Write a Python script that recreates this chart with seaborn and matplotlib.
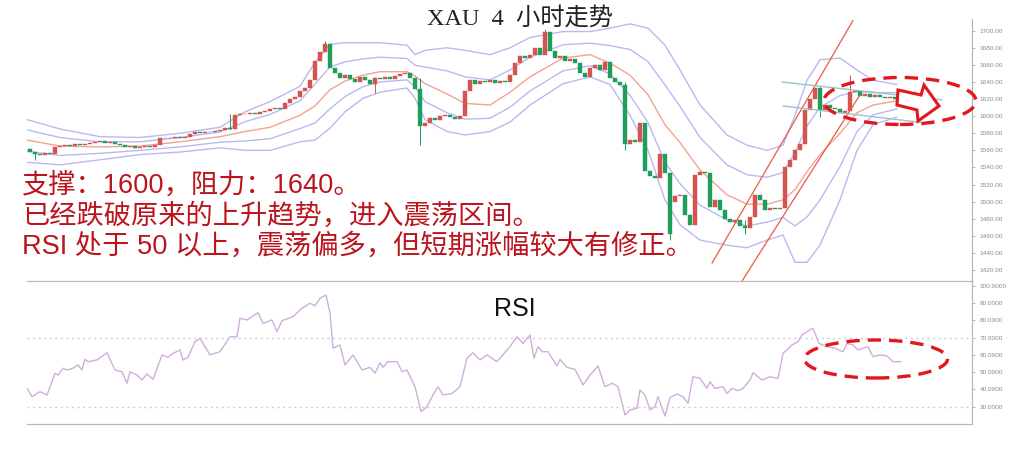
import numpy as np
import pandas as pd
import matplotlib
matplotlib.use("Agg")
import matplotlib.pyplot as plt
import seaborn as sns
from matplotlib.patches import Ellipse, Polygon


# 4h closes (bar 0 = first candle)
close = [1558, 1556, 1555, 1557, 1556, 1564, 1565, 1566, 1565, 1567,
         1566, 1567, 1569, 1570, 1571, 1569, 1570, 1567, 1566, 1564,
         1565, 1563, 1564, 1565, 1564, 1566, 1574, 1575, 1574, 1576,
         1575, 1576, 1579, 1581, 1580, 1582, 1581, 1583, 1584, 1586,
         1585, 1601, 1602, 1603, 1604, 1603, 1605, 1606, 1608, 1609,
         1608, 1615, 1620, 1622, 1630, 1633, 1642, 1665, 1675, 1684,
         1656, 1650, 1645, 1648, 1644, 1640, 1646, 1642, 1638, 1645,
         1644, 1646, 1643, 1647, 1649, 1651, 1645, 1632, 1588, 1592,
         1598, 1596, 1600, 1601, 1599, 1597, 1600, 1630, 1642, 1638,
         1641, 1640, 1642, 1639, 1641, 1640, 1648, 1662, 1670, 1668,
         1672, 1680, 1672, 1698, 1676, 1668, 1670, 1664, 1667, 1662,
         1650, 1646, 1656, 1660, 1654, 1663, 1645, 1640, 1636, 1568,
         1572, 1570, 1592, 1536, 1530, 1528, 1556, 1534, 1462, 1506,
         1508, 1484, 1473, 1531, 1535, 1533, 1494, 1502, 1490, 1480,
         1476, 1478, 1471, 1469, 1482, 1508, 1502, 1490, 1493, 1491,
         1492, 1541, 1549, 1560, 1567, 1607, 1620, 1633, 1607, 1613,
         1610, 1608, 1604, 1606, 1628, 1630, 1624, 1626, 1623, 1625,
         1622, 1621, 1623, 1620]
first_open = 1562
gap_bar = [129]
gap_open = [1500]

# the wicks that stand out
wick_bar = [1, 40, 59, 69, 78, 103, 119, 128, 143, 158, 164]
wick_low = [1549, 1584, 1676, 1627, 1566, 1676, 1560, 1455, 1462, 1599, 1624]
wick_high = [1558, 1602, 1688, 1646, 1645, 1702, 1640, 1534, 1478, 1634, 1648]

# bollinger middle / outer bands
bb_bar = [-0.6, 6, 14, 22, 30, 38, 43, 48, 54, 57, 60, 63, 66.6, 70, 75.4,
          77, 79, 83.4, 87, 92, 96, 100, 106.6, 112, 116, 120, 123.6, 127,
          130, 134, 139.4, 143.4, 147.4, 150.6, 153, 155.4, 158, 162, 165.4,
          168.6, 173.4]
bb_mid = [1572, 1565, 1564, 1565, 1570, 1576, 1582, 1587, 1601, 1612, 1631,
          1641, 1648, 1652, 1652, 1647, 1638, 1626, 1615, 1613, 1628, 1646,
          1668, 1672, 1662, 1648, 1625, 1590, 1569, 1537, 1508, 1497, 1497,
          1502, 1514, 1535, 1555, 1580, 1604, 1613, 1618]
bb_up = [1596, 1585, 1576, 1575, 1580, 1587, 1605, 1617, 1635, 1663, 1684,
         1686, 1686, 1686, 1683, 1672, 1677, 1680, 1677, 1672, 1680, 1692,
         1699, 1699, 1703, 1708, 1703, 1683, 1654, 1613, 1578, 1566, 1560,
         1566, 1601, 1642, 1666, 1668, 1654, 1642, 1637]
bb_low = [1546, 1543, 1549, 1555, 1558, 1563, 1560, 1560, 1570, 1572, 1586,
          1605, 1621, 1628, 1633, 1621, 1596, 1582, 1578, 1582, 1593, 1613,
          1638, 1646, 1637, 1601, 1560, 1502, 1473, 1455, 1449, 1446, 1455,
          1461, 1429, 1429, 1449, 1502, 1560, 1590, 1599]

# trend lines and the sideways channel
trend1_bar = [136.4, 164.6]
trend1_px = [1428, 1712]
trend2_bar = [142.4, 166]
trend2_px = [1407, 1625]
chan_up_bar = [150.4, 182.4]
chan_up_px = [1640, 1619]
chan_lo_bar = [150.6, 180.6]
chan_lo_px = [1612, 1591]

# RSI
rsi_bar = [-0.6, 0.4, 2, 3.4, 5, 5.6, 6.6, 7.4, 8.6, 9.6,
           10.4, 11, 11.6, 13.4, 15.4, 17, 18.4, 19.4, 20, 21.4,
           22.4, 23.4, 24.6, 26.4, 27.6, 28.6, 30, 30.6, 31.6, 33,
           34, 36, 38, 40, 41.4, 42, 43.4, 45.6, 46.6, 48.4,
           49.4, 50.4, 52.6, 54.4, 56, 57, 58, 59.2, 60, 60.6,
           62, 63, 64.6, 66.4, 68, 69, 70, 70.6, 71.6, 73.4,
           74.4, 75.4, 77, 78.2, 79.4, 80.6, 81.6, 82.6, 84.4, 86,
           87.4, 88.6, 90, 91.4, 93.4, 96, 97.4, 98.6, 100, 100.8,
           101.6, 102.4, 103.6, 105.4, 106, 107.4, 109, 110.6, 112, 113.6,
           115, 116.4, 117.6, 119, 120, 121.4, 122, 123, 124, 125,
           125.6, 127, 128, 129.4, 130.6, 131.6, 132.6, 134, 135.4, 136,
           137, 138.6, 139.4, 140.4, 141.6, 142.6, 144, 144.6, 146.4, 148,
           149.6, 150.6, 152.4, 153.6, 154.4, 155.4, 156.6, 157.8, 159.4, 161,
           162.6, 163.4, 164.6, 165.6, 166.6, 167.6, 168.6, 170, 171.4, 172.6,
           174.2]
rsi_val = [40.7, 35.8, 38.7, 36.8, 49.4, 48.3, 52.3, 51.3, 52.3, 54.2,
           51.3, 57.5, 56.1, 57.1, 61.3, 51.3, 50.3, 43.6, 50.3, 48.3,
           45.5, 49.0, 45.9, 60.0, 58.6, 60.9, 62.9, 57.1, 58.6, 67.7,
           69.6, 60.0, 61.9, 70.6, 70.6, 81.3, 80.3, 84.5, 78.4, 80.3,
           73.5, 79.9, 82.2, 87.1, 90.0, 88.5, 92.9, 94.8, 84.3, 63.9,
           65.8, 54.2, 60.0, 51.3, 52.8, 49.4, 55.5, 52.8, 56.1, 56.1,
           50.3, 51.3, 41.6, 27.1, 30.0, 36.8, 41.6, 36.8, 37.7, 41.6,
           58.1, 61.3, 57.1, 60.0, 56.1, 64.8, 70.6, 66.7, 71.6, 58.1,
           64.8, 61.9, 61.9, 53.6, 57.5, 52.8, 51.6, 42.6, 48.3, 53.6,
           41.6, 43.6, 41.6, 25.2, 28.1, 29.1, 39.7, 36.8, 28.1, 30.0,
           35.8, 24.6, 35.4, 37.3, 35.8, 31.9, 47.4, 46.4, 40.6, 44.5,
           40.6, 41.6, 37.7, 40.6, 39.3, 40.6, 45.5, 49.7, 45.5, 47.4,
           46.4, 60.9, 65.8, 67.7, 71.6, 73.5, 75.5, 66.7, 64.8, 63.9,
           61.9, 66.7, 65.8, 62.9, 63.9, 64.8, 59.0, 60.0, 59.4, 56.1,
           56.1]

price_ticks = list(range(1420, 1701, 20))
rsi_ticks = list(range(30, 101, 10))

notes = ["支撑：1600，阻力：1640。",
         "已经跌破原来的上升趋势，进入震荡区间。",
         "RSI 处于 50 以上，震荡偏多，但短期涨幅较大有修正。"]


sns.set_theme(style="white")
plt.rcParams["font.family"] = ["Liberation Sans", "Noto Sans CJK SC", "DejaVu Sans"]

RED = "#d65350"
GREEN = "#1f9d5b"
BAND = "#b9b9f2"

fig = plt.figure(figsize=(10.24, 4.5), dpi=100)
ax = fig.add_axes([27 / 1024, 1 - 281 / 450, 945 / 1024, 262 / 450])
ax2 = fig.add_axes([27 / 1024, 1 - 424 / 450, 945 / 1024, 143 / 450])

# candles
df = pd.DataFrame({"bar": np.arange(len(close)), "close": close})
opens = [first_open] + close[:-1]
for b, o in zip(gap_bar, gap_open):
    opens[b] = o
df["open"] = opens
df["up"] = df["close"] >= df["open"]
body_lo = df[["open", "close"]].min(axis=1)
body_h = (df["close"] - df["open"]).abs().clip(lower=0.9)
cols = np.where(df["up"], RED, GREEN)

wick_cols = [cols[b] for b in wick_bar]
ax.vlines(wick_bar, wick_low, wick_high, colors=wick_cols, lw=0.7, zorder=2)
ax.bar(df["bar"], body_h, bottom=body_lo, width=0.66, color=cols,
       edgecolor=cols, lw=0.3, zorder=3)

# bollinger bands
bb = pd.DataFrame({"bar": bb_bar, "mid": bb_mid, "up2": bb_up, "lo2": bb_low})
bb["up1"] = (bb["up2"] + bb["mid"]) / 2
bb["lo1"] = (bb["lo2"] + bb["mid"]) / 2
for c in ["up2", "up1", "lo1", "lo2"]:
    sns.lineplot(data=bb, x="bar", y=c, ax=ax, color=BAND, lw=1.0, zorder=1)
sns.lineplot(data=bb, x="bar", y="mid", ax=ax, color="#f3a391", lw=1.0, zorder=1)

# trend lines / channel
ax.plot(trend1_bar, trend1_px, color="#ea5a48", lw=0.9, zorder=4)
ax.plot(trend2_bar, trend2_px, color="#ea5a48", lw=0.9, zorder=4)
ax.plot(chan_up_bar, chan_up_px, color="#9fc0cc", lw=1.0, zorder=4)
ax.plot(chan_lo_bar, chan_lo_px, color="#9fc0cc", lw=1.0, zorder=4)

ax.set_xlim(-0.6, 188.4)
ax.set_ylim(1407.1, 1713.7)
ax.set_xlabel("")
ax.set_ylabel("")
ax.set_xticks([])
ax.yaxis.tick_right()
ax.set_yticks(price_ticks)
ax.set_yticklabels([f"{v:.2f}" for v in price_ticks])
ax.tick_params(axis="y", labelsize=4.6, labelcolor="#8a8a8a", color="#aaaaaa",
               length=2.5, width=0.6, pad=3)
for s in ["top", "left", "bottom"]:
    ax.spines[s].set_visible(False)
ax.spines["right"].set_color("#b0b0b0")
ax.spines["right"].set_linewidth(0.8)

# RSI panel
rsi = pd.DataFrame({"bar": rsi_bar, "rsi": rsi_val})
sns.lineplot(data=rsi, x="bar", y="rsi", ax=ax2, color="#cfaedc", lw=1.0)
ax2.axhline(70, color="#cfcfcf", lw=1.0, ls=(0, (1.5, 2.5)))
ax2.axhline(30, color="#cfcfcf", lw=1.0, ls=(0, (1.5, 2.5)))
ax2.set_xlim(-0.6, 188.4)
ax2.set_ylim(19.96, 102.9)
ax2.set_xlabel("")
ax2.set_ylabel("")
ax2.set_xticks([])
ax2.yaxis.tick_right()
ax2.set_yticks(rsi_ticks)
ax2.set_yticklabels([f"{v:.4f}" for v in rsi_ticks])
ax2.tick_params(axis="y", labelsize=4.6, labelcolor="#8a8a8a", color="#aaaaaa",
                length=2.5, width=0.6, pad=3)
ax2.spines["left"].set_visible(False)
for s in ["top", "bottom", "right"]:
    ax2.spines[s].set_color("#b8b8b8")
    ax2.spines[s].set_linewidth(0.9)

# texts
fig.text(520 / 1024, 1 - 18 / 450, "XAU  4  小时走势", ha="center", va="center",
         fontsize=17.5, color="#222222",
         family=["Liberation Serif", "Noto Sans CJK SC"])
for k, line in enumerate(notes):
    fig.text(22 / 1024, 1 - (186 + 30 * k) / 450, line, ha="left", va="center",
             fontsize=19.6, color="#bb141c")
fig.text(515 / 1024, 1 - 309 / 450, "RSI", ha="center", va="center",
         fontsize=18, color="#111111")

# highlight ellipses and arrow (figure pixels -> fractions)
W, H = 1024, 450
dash = (0, (4, 2.4))
fig.add_artist(Ellipse((900 / W, 1 - 101 / H), 152 / W, 47 / H, fill=False,
                       ec="#e3161d", lw=2.4, ls=dash, zorder=10))
fig.add_artist(Ellipse((876 / W, 1 - 359 / H), 143 / W, 38 / H, fill=False,
                       ec="#e3161d", lw=2.4, ls=dash, zorder=10))
arrow_px = [(898, 90), (921, 95), (924, 85), (939, 106), (918, 121),
            (917, 110), (897, 105)]
fig.add_artist(Polygon([(x / W, 1 - y / H) for x, y in arrow_px], closed=True,
                       fc="white", ec="#e3161d", lw=2.2, zorder=11))

fig.savefig("out.png", dpi=100)
